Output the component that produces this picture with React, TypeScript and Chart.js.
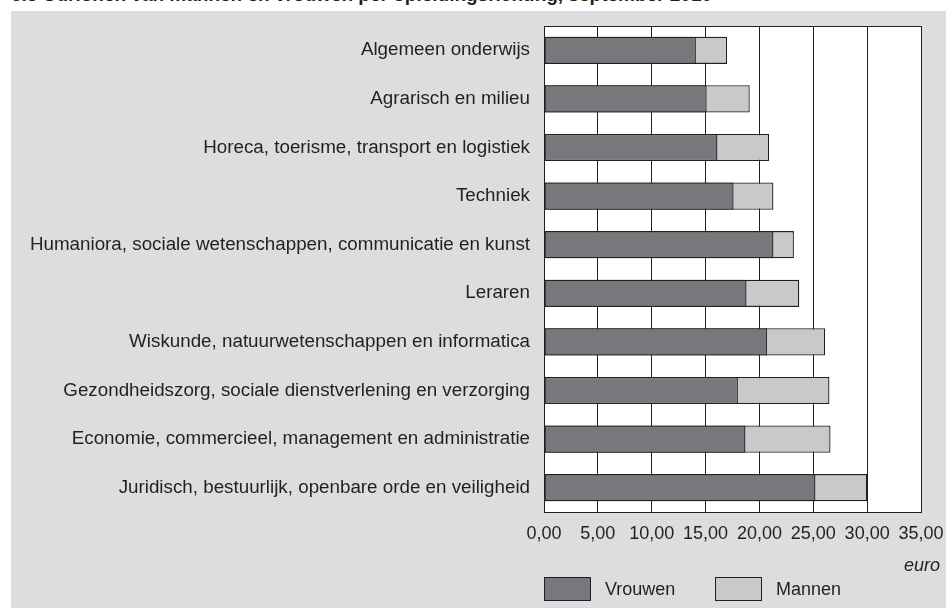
import React, { useEffect, useRef } from "react";
import { Chart, registerables } from "chart.js";

Chart.register(...registerables);

const TITLE = "5.3 Uurlonen van mannen en vrouwen per opleidingsrichting, september 2010";
const categories = [
  "Algemeen onderwijs",
  "Agrarisch en milieu",
  "Horeca, toerisme, transport en logistiek",
  "Techniek",
  "Humaniora, sociale wetenschappen, communicatie en kunst",
  "Leraren",
  "Wiskunde, natuurwetenschappen en informatica",
  "Gezondheidszorg, sociale dienstverlening en verzorging",
  "Economie, commercieel, management en administratie",
  "Juridisch, bestuurlijk, openbare orde en veiligheid",
];
const vrouwen = [14.1, 15.1, 16.1, 17.6, 21.3, 18.8, 20.7, 18.0, 18.7, 25.2];
const mannen = [17.0, 19.1, 20.9, 21.3, 23.2, 23.7, 26.1, 26.5, 26.6, 30.0];
const xMin = 0;
const xMax = 35;
const xStep = 5;
const unitLabel = "euro";
const seriesNames = ["Vrouwen", "Mannen"];

const FONT = "'Liberation Sans', Arial, Helvetica, sans-serif";
const INK = "#231f20";
const DARK = "#77787c";
const LIGHT = "#c8c9cb";
const BG = "#dcdddf";

const framePlugin = {
  id: "frameAndLegend",
  beforeDraw(chart: any) {
    const { ctx, chartArea } = chart;
    const { left, top, width, height } = chartArea;
    ctx.save();
    ctx.fillStyle = "#ffffff";
    ctx.fillRect(left, top, width, height);
    ctx.restore();
  },
  afterDraw(chart: any) {
    const { ctx, chartArea } = chart;
    const { left, top, right, bottom } = chartArea;
    ctx.save();
    ctx.strokeStyle = INK;
    ctx.lineWidth = 1;
    ctx.strokeRect(Math.round(left) + 0.5, Math.round(top) + 0.5, Math.round(right - left), Math.round(bottom - top));

    // unit label
    ctx.fillStyle = INK;
    ctx.font = `italic 18px ${FONT}`;
    ctx.textAlign = "right";
    ctx.textBaseline = "middle";
    ctx.fillText(unitLabel, chart.width - 6, bottom + 54);

    // legend
    const boxW = 46;
    const boxH = 23;
    const boxTop = bottom + 65;
    const offsets = [0, 171];
    chart.data.datasets.forEach((ds: any, i: number) => {
      const x = left + offsets[i];
      ctx.fillStyle = ds.backgroundColor;
      ctx.fillRect(x, boxTop, boxW, boxH);
      ctx.strokeStyle = INK;
      ctx.lineWidth = 1;
      ctx.strokeRect(x + 0.5, boxTop + 0.5, boxW, boxH);
      ctx.fillStyle = INK;
      ctx.font = `18px ${FONT}`;
      ctx.textAlign = "left";
      ctx.textBaseline = "middle";
      ctx.fillText(ds.label, x + boxW + 15, boxTop + boxH / 2 + 2);
    });
    ctx.restore();
  },
};

export default function App() {
  const canvasRef = useRef<HTMLCanvasElement | null>(null);

  useEffect(() => {
    if (!canvasRef.current) return;
    Chart.defaults.font.family = FONT;
    const chart = new Chart(canvasRef.current, {
      type: "bar",
      data: {
        labels: categories,
        datasets: [
          {
            label: seriesNames[0],
            data: vrouwen,
            backgroundColor: DARK,
            borderColor: INK,
            borderWidth: 1.3,
            borderSkipped: false,
          },
          {
            label: seriesNames[1],
            data: mannen,
            backgroundColor: LIGHT,
            borderColor: INK,
            borderWidth: 1.3,
            borderSkipped: false,
          },
        ],
      },
      options: {
        indexAxis: "y",
        responsive: false,
        animation: false,
        devicePixelRatio: 1,
        datasets: {
          bar: { categoryPercentage: 1, barPercentage: 0.56 },
        },
        layout: { padding: { left: 0, right: 25, top: 15, bottom: 56 } },
        plugins: {
          legend: { display: false },
          tooltip: { enabled: false },
          title: { display: false },
        },
        scales: {
          x: {
            type: "linear",
            min: xMin,
            max: xMax,
            stacked: false,
            grid: { color: INK, lineWidth: 1, drawTicks: false },
            border: { display: true, color: INK, width: 1 },
            ticks: {
              stepSize: xStep,
              padding: 11,
              color: INK,
              font: { size: 18, family: FONT },
              callback: (v: any) => Number(v).toFixed(2).replace(".", ","),
            },
            afterFit: (scale: any) => {
              scale.height = 40;
              scale.paddingLeft = 0;
              scale.paddingRight = 0;
            },
          },
          y: {
            type: "category",
            stacked: true,
            grid: { display: false, drawTicks: false },
            border: { display: false },
            ticks: {
              padding: 14,
              color: INK,
              font: { size: 18.8, family: FONT },
            },
            afterFit: (scale: any) => {
              scale.width = 533;
              scale.paddingTop = 0;
              scale.paddingBottom = 0;
            },
          },
        },
      },
      plugins: [framePlugin],
    });
    return () => chart.destroy();
  }, []);

  return (
    <div
      style={{
        position: "absolute",
        left: 0,
        top: 0,
        width: 946,
        height: 608,
        overflow: "hidden",
        background: "#ffffff",
      }}
    >
      <div
        style={{
          position: "absolute",
          left: 11,
          top: 11,
          width: 935,
          height: 597,
          background: BG,
        }}
      >
        <canvas ref={canvasRef} width={935} height={597} style={{ display: "block", width: 935, height: 597 }} />
      </div>
      <div
        style={{
          position: "absolute",
          left: 11,
          top: -15.5,
          whiteSpace: "nowrap",
          fontFamily: FONT,
          fontWeight: "bold",
          fontSize: 19,
          lineHeight: "19px",
          color: INK,
        }}
      >
        {TITLE}
      </div>
    </div>
  );
}
